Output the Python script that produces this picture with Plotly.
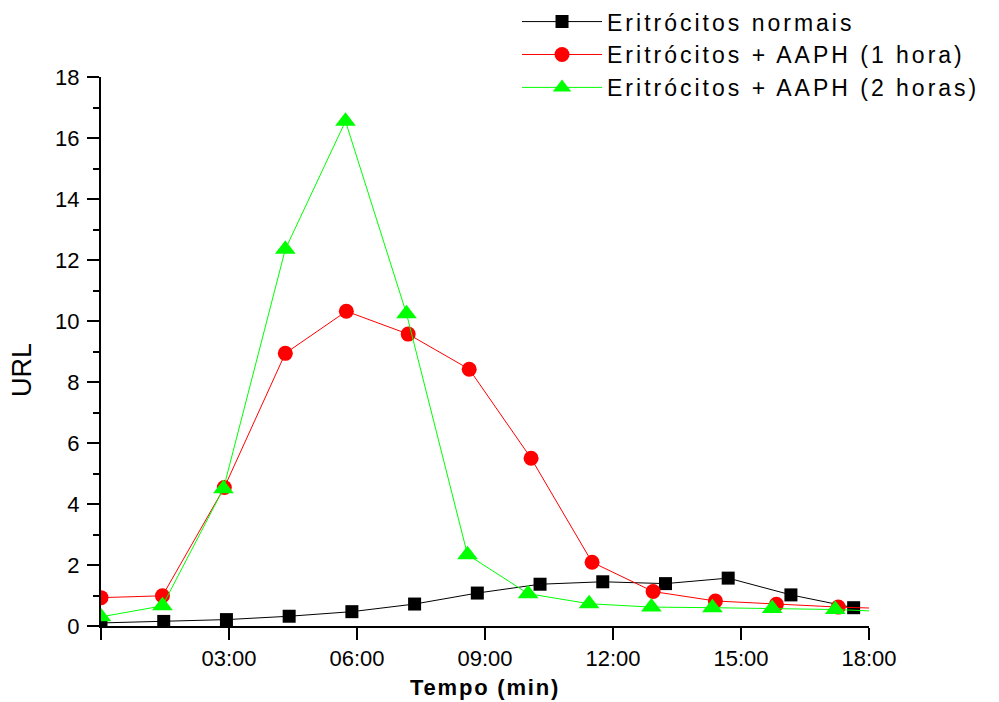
import plotly.graph_objects as go

# Time (minutes) and URL values
t_normal = [0, 1.47, 2.94, 4.41, 5.88, 7.35, 8.82, 10.29, 11.76, 13.23, 14.70, 16.17, 17.64]
url_normal = [0.10, 0.15, 0.21, 0.32, 0.47, 0.72, 1.08, 1.37, 1.45, 1.39, 1.57, 1.02, 0.60]

t_aaph1 = [0, 1.44, 2.89, 4.32, 5.75, 7.20, 8.63, 10.08, 11.51, 12.94, 14.40, 15.83, 17.28, 18.71]
url_aaph1 = [0.93, 0.99, 4.54, 8.94, 10.32, 9.57, 8.42, 5.50, 2.09, 1.13, 0.82, 0.71, 0.62, 0.56]

t_aaph2 = [0, 1.44, 2.87, 4.32, 5.73, 7.16, 8.59, 10.01, 11.44, 12.90, 14.33, 15.73, 17.21, 18.64]
url_aaph2 = [0.30, 0.66, 4.50, 12.35, 16.55, 10.24, 2.34, 1.06, 0.73, 0.62, 0.60, 0.57, 0.54, 0.46]

names = ["Eritrócitos normais", "Eritrócitos + AAPH (1 hora)", "Eritrócitos + AAPH (2 horas)"]

x_tickvals = [0, 3, 6, 9, 12, 15, 18]
x_ticktext = ["", "03:00", "06:00", "09:00", "12:00", "15:00", "18:00"]
y_tickvals = [0, 2, 4, 6, 8, 10, 12, 14, 16, 18]

x_title = "Tempo (min)"
y_title = "URL"

FONT = "Liberation Sans, Arial, sans-serif"


def spaced(label, px=3):
    return '<span style="letter-spacing:%spx">' % px + label + '</span>'


fig = go.Figure()
fig.add_trace(go.Scatter(
    x=t_normal, y=url_normal, name=spaced(names[0]), mode="lines+markers",
    line=dict(color="#000000", width=1),
    marker=dict(symbol="square", size=13, color="#000000"),
))
fig.add_trace(go.Scatter(
    x=t_aaph1, y=url_aaph1, name=spaced(names[1]), mode="lines+markers",
    line=dict(color="#FF0000", width=1),
    marker=dict(symbol="circle", size=15, color="#FF0000"),
))
fig.add_trace(go.Scatter(
    x=t_aaph2, y=url_aaph2, name=spaced(names[2]), mode="lines+markers",
    line=dict(color="#00FF00", width=1),
    marker=dict(symbol="triangle-up", size=18, color="#00FF00"),
))

# the page body adds an 8px margin, so the figure is 8px smaller and shifted
fig.update_layout(
    width=991, height=694,
    paper_bgcolor="white", plot_bgcolor="white",
    margin=dict(l=93, r=130, t=69, b=76, autoexpand=False),
    font=dict(family=FONT, color="black", size=20),
    legend=dict(
        x=0.5417, y=1.14, xanchor="left", yanchor="top",
        font=dict(family=FONT, size=23, color="black"),
        bgcolor="rgba(0,0,0,0)", tracegroupgap=0, itemwidth=80,
    ),
    showlegend=True,
    annotations=[dict(
        text=y_title, xref="paper", yref="paper",
        x=-0.103, y=0.466, xanchor="center", yanchor="middle",
        textangle=-90, showarrow=False,
        font=dict(size=27, family=FONT, color="black"),
    )],
)
fig.update_xaxes(
    range=[0, 18], tickvals=x_tickvals, ticktext=x_ticktext,
    showgrid=False, zeroline=False,
    showline=True, linecolor="black", linewidth=2,
    ticks="outside", ticklen=12, tickwidth=2, tickcolor="black",
    tickfont=dict(size=22, family=FONT),
    title=dict(text="<b>" + spaced(x_title, 1.8) + "</b>", font=dict(size=22, family=FONT), standoff=9),
)
fig.update_yaxes(
    range=[0, 18], tickvals=y_tickvals,
    showgrid=False, zeroline=False,
    showline=True, linecolor="black", linewidth=2,
    ticks="outside", ticklen=12, tickwidth=2, tickcolor="black",
    ticklabelstandoff=3,
    tickfont=dict(size=22, family=FONT),
    minor=dict(ticks="outside", ticklen=6, tickwidth=2, tickcolor="black", dtick=1),
)

fig.write_html("out.html")
